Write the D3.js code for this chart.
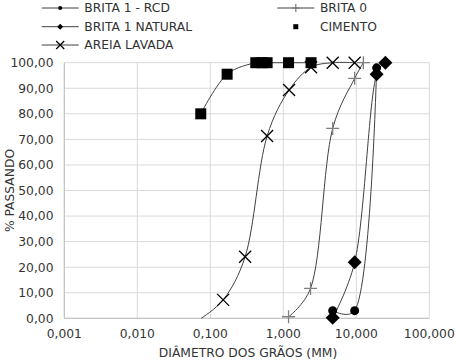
<!DOCTYPE html>
<html><head><meta charset="utf-8">
<script src="https://cdn.jsdelivr.net/npm/d3@7"></script>
<style>body{margin:0;background:#fff}svg text{font-family:"DejaVu Sans",Verdana,sans-serif;fill:#333}</style>
</head><body>
<svg id="c" width="459" height="362"></svg>
<script>
const xTicks = [0.001, 0.01, 0.1, 1, 10, 100];
const xTickLabels = ["0,001", "0,010", "0,100", "1,000", "10,000", "100,000"];
const yTicks = [0, 10, 20, 30, 40, 50, 60, 70, 80, 90, 100];
const yTickLabels = ["0,00","10,00","20,00","30,00","40,00","50,00","60,00","70,00","80,00","90,00","100,00"];

const rcdX = [4.75, 9.5, 19];
const rcdY = [3.0, 3.0, 98.0];
const naturalX = [4.75, 9.5, 19, 25];
const naturalY = [0.2, 21.9, 95.5, 100];
const brita0X = [1.18, 2.36, 4.75, 9.5, 12.5];
const brita0Y = [0.6, 11.7, 74.3, 93.9, 100];
const cimentoX = [0.074, 0.17, 0.42, 0.51, 0.6, 1.18, 2.4];
const cimentoY = [80, 95.5, 100, 100, 100, 100, 100];
const areiaX = [0.075, 0.15, 0.3, 0.6, 1.2, 2.4, 4.75, 9.5];
const areiaY = [0, 7.2, 24.1, 71.3, 89.3, 98.2, 100, 100];
const areiaMarked = [false, true, true, true, true, true, true, true];

const svg = d3.select("#c");
const x = d3.scaleLog().domain([0.001, 100]).range([64.3, 429.3]);
const y = d3.scaleLinear().domain([0, 100]).range([318.3, 62.7]);
const FS = 12.3;

// grid
svg.append("g").selectAll("line.h").data(yTicks).join("line")
  .attr("x1", x(0.001)).attr("x2", x(100)).attr("y1", d => y(d)).attr("y2", d => y(d))
  .attr("stroke", "#d9d9d9").attr("stroke-width", 1);
svg.append("g").selectAll("line.v").data(xTicks).join("line")
  .attr("y1", y(0)).attr("y2", y(100)).attr("x1", d => x(d)).attr("x2", d => x(d))
  .attr("stroke", "#d9d9d9").attr("stroke-width", 1);
svg.append("line").attr("x1", x(0.001)).attr("x2", x(0.001)).attr("y1", y(0)).attr("y2", y(100)).attr("stroke", "#bfbfbf");
svg.append("line").attr("x1", x(0.001)).attr("x2", x(100)).attr("y1", y(0)).attr("y2", y(0)).attr("stroke", "#bfbfbf");

// tick labels
svg.append("g").selectAll("text").data(yTicks).join("text")
  .attr("x", 53.5).attr("y", d => y(d)).attr("dy", "0.36em").attr("text-anchor", "end")
  .attr("font-size", FS).text((d, i) => yTickLabels[i]);
svg.append("g").selectAll("text").data(xTicks).join("text")
  .attr("x", d => x(d)).attr("y", 338).attr("text-anchor", "middle")
  .attr("font-size", FS).text((d, i) => xTickLabels[i]);

svg.append("text").attr("x", 248).attr("y", 357).attr("text-anchor", "middle").attr("font-size", FS)
  .text("DIÂMETRO DOS GRÃOS (MM)");
svg.append("text").attr("transform", "translate(14,190.5) rotate(-90)").attr("text-anchor", "middle").attr("font-size", FS)
  .text("% PASSANDO");

const lineGen = d3.line().x(d => x(d[0])).y(d => y(d[1])).curve(d3.curveCatmullRom.alpha(0.4));
function pts(xs, ys) { return xs.map((v, i) => [v, ys[i]]); }

const series = [
  {pts: pts(cimentoX, cimentoY), m: "square"},
  {pts: pts(areiaX, areiaY), m: "x", mark: areiaMarked},
  {pts: pts(brita0X, brita0Y), m: "plus"},
  {pts: pts(rcdX, rcdY), m: "circle"},
  {pts: pts(naturalX, naturalY), m: "diamond"},
];

function drawMarker(g, type, cx, cy, s) {
  if (type === "square") g.append("rect").attr("x", cx - s/2).attr("y", cy - s/2).attr("width", s).attr("height", s).attr("fill", "#000");
  else if (type === "circle") g.append("circle").attr("cx", cx).attr("cy", cy).attr("r", s/2).attr("fill", "#000");
  else if (type === "diamond") g.append("path").attr("d", `M${cx},${cy-s/2}L${cx+s/2},${cy}L${cx},${cy+s/2}L${cx-s/2},${cy}Z`).attr("fill", "#000");
  else if (type === "x") g.append("path").attr("d", `M${cx-s/2},${cy-s/2}L${cx+s/2},${cy+s/2}M${cx-s/2},${cy+s/2}L${cx+s/2},${cy-s/2}`).attr("stroke", "#000").attr("stroke-width", 1.3).attr("fill", "none");
  else if (type === "plus") g.append("path").attr("d", `M${cx-s/2},${cy}L${cx+s/2},${cy}M${cx},${cy-s/2}L${cx},${cy+s/2}`).attr("stroke", "#808080").attr("stroke-width", 1.3).attr("fill", "none");
}

const sizes = {square: 11, circle: 9, diamond: 14, x: 12, plus: 13};
series.forEach(s => {
  svg.append("path").attr("d", lineGen(s.pts)).attr("fill", "none").attr("stroke", "#404040").attr("stroke-width", 1);
});
series.forEach(s => {
  const g = svg.append("g");
  s.pts.forEach((p, i) => {
    if (s.mark && !s.mark[i]) return;
    drawMarker(g, s.m, x(p[0]), y(p[1]), sizes[s.m]);
  });
});

// legend
const legend = [
  {label: "BRITA 1 - RCD", m: "circle", lx: 41.7, ly: 8, s: 4, line: true},
  {label: "BRITA 0", m: "plus", lx: 277.3, ly: 8, s: 8, line: true},
  {label: "BRITA 1 NATURAL", m: "diamond", lx: 41.7, ly: 26.7, s: 6, line: true},
  {label: "CIMENTO", m: "square", lx: 277.3, ly: 26.7, s: 5, line: false},
  {label: "AREIA LAVADA", m: "x", lx: 41.7, ly: 45, s: 8, line: true},
];
legend.forEach(l => {
  const g = svg.append("g");
  if (l.line) g.append("line").attr("x1", l.lx).attr("x2", l.lx + 37).attr("y1", l.ly).attr("y2", l.ly).attr("stroke", "#404040");
  drawMarker(g, l.m, l.lx + 18.5, l.ly, l.s);
  g.append("text").attr("x", l.lx + 42.6).attr("y", l.ly).attr("dy", "0.36em").attr("font-size", FS).text(l.label);
});
</script>
</body></html>
